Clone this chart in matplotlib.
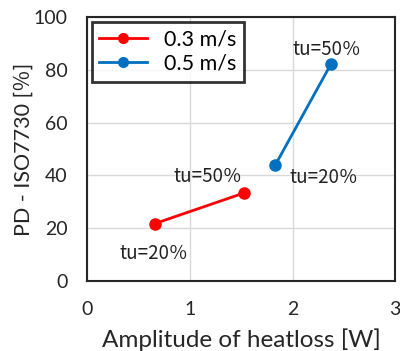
import matplotlib.pyplot as plt

# data
labels = ['0.3 m/s', '0.5 m/s']
colors = ['#ff0000', '#0070c0']
amp_03 = [0.66, 1.53]
pd_03 = [21.8, 33.4]
amp_05 = [1.83, 2.375]
pd_05 = [43.8, 82.2]
tu_labels = ['tu=20％', 'tu=50％']

plt.rcParams['font.family'] = ['Lato', 'Noto Sans CJK JP', 'DejaVu Sans']

fig = plt.figure(figsize=(4.0, 3.51), dpi=100)
ax = fig.add_axes([0.218, 0.199, 0.77, 0.753])

ax.plot(amp_03, pd_03, '-o', color=colors[0], lw=2, ms=8, label=labels[0], zorder=3)
ax.plot(amp_05, pd_05, '-o', color=colors[1], lw=2, ms=8, label=labels[1], zorder=3)

# annotations (offsets in data units)
fs = 13.5
tc = '#222222'
cjk = ['Noto Sans CJK JP']
ax.text(amp_03[0] - 0.01, pd_03[0] - 11.2, tu_labels[0], ha='center', va='center', fontsize=fs, color=tc, family=cjk)
ax.text(amp_03[1] - 0.36, pd_03[1] + 6.1, tu_labels[1], ha='center', va='center', fontsize=fs, color=tc, family=cjk)
ax.text(amp_05[0] + 0.475, pd_05[0] - 4.5, tu_labels[0], ha='center', va='center', fontsize=fs, color=tc, family=cjk)
ax.text(amp_05[1] - 0.04, pd_05[1] + 5.6, tu_labels[1], ha='center', va='center', fontsize=fs, color=tc, family=cjk)

ax.set_xlim(0, 3)
ax.set_ylim(0, 100)
ax.set_xticks([0, 1, 2, 3])
ax.set_yticks([0, 20, 40, 60, 80, 100])
ax.grid(True, color='#d9d9d9', lw=1)
ax.set_axisbelow(True)
for s in ax.spines.values():
    s.set_color('#262626')
    s.set_linewidth(1.5)
ax.tick_params(length=0, labelsize=14, pad=14, colors='#262626')

ax.set_xlabel('Amplitude of heatloss [W]', fontsize=17.5, labelpad=8, color='#262626')
ax.set_ylabel('PD - ISO7730 [％]', fontsize=15.5, labelpad=0, color='#262626')

leg = ax.legend(loc='upper left', bbox_to_anchor=(0.015, 0.98), borderaxespad=0,
                fontsize=15.5, frameon=True, fancybox=False, edgecolor='black',
                borderpad=0.35, handlelength=2.2, labelspacing=0.2, handletextpad=0.8)
leg.get_frame().set_linewidth(2)
for h in leg.legend_handles:
    h.set_markersize(7)

fig.savefig('out.png', dpi=100)
